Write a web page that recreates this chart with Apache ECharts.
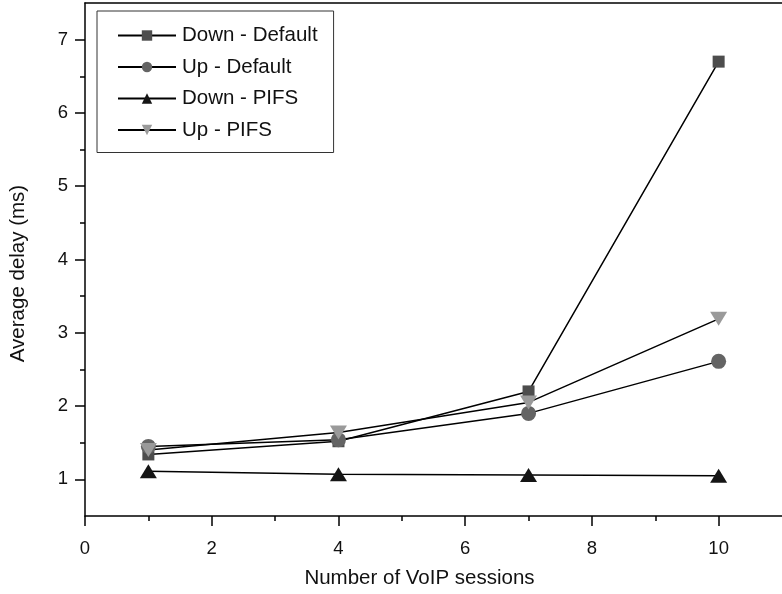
<!DOCTYPE html>
<html>
<head>
<meta charset="utf-8">
<script src="https://cdn.jsdelivr.net/npm/echarts@6/dist/echarts.min.js"></script>
<style>
  html, body { margin: 0; padding: 0; background: #fff; }
  #chart { width: 782px; height: 594px; }
</style>
</head>
<body>
<div id="chart"></div>
<script>
// Number of VoIP sessions (x) and average delay in ms per scenario
const sessions = [1, 4, 7, 10];
const downDefault = [1.34, 1.52, 2.20, 6.70];
const upDefault = [1.45, 1.54, 1.90, 2.61];
const downPifs = [1.11, 1.07, 1.06, 1.05];
const upPifs = [1.40, 1.64, 2.05, 3.19];

// Axis tick positions
const xMajorTicks = [0, 2, 4, 6, 8, 10];
const xMinorTicks = [1, 3, 5, 7, 9];
const yMajorTicks = [1, 2, 3, 4, 5, 6, 7];
const yMinorTicks = [1.5, 2.5, 3.5, 4.5, 5.5, 6.5];

const FONT = 'Liberation Sans, Arial, Helvetica, sans-serif';

function pairs(ys) {
  return sessions.map((x, i) => [x, ys[i]]);
}

function makeSeries(name, ys, symbol, size, color, rotate) {
  return {
    name: name,
    type: 'line',
    data: pairs(ys),
    symbol: symbol,
    symbolSize: size,
    symbolRotate: rotate || 0,
    showAllSymbol: true,
    lineStyle: { color: '#000', width: 1.5 },
    itemStyle: { color: color, borderWidth: 0, opacity: 1 },
    emphasis: { disabled: true },
    animation: false
  };
}

const chart = echarts.init(document.getElementById('chart'), null, { renderer: 'canvas' });

chart.setOption({
  backgroundColor: '#fff',
  animation: false,
  grid: { left: 84, top: 3, right: -3, bottom: 77, containLabel: false },
  legend: {
    orient: 'vertical',
    left: 97,
    top: 11,
    padding: [14, 16, 12, 20],
    itemWidth: 58,
    itemHeight: 13,
    itemGap: 10.5,
    borderColor: '#333',
    borderWidth: 1,
    backgroundColor: '#fff',
    textStyle: { fontFamily: FONT, fontSize: 20.5, color: '#111', padding: [0, 0, 0, 1] },
    data: ['Down - Default', 'Up - Default', 'Down - PIFS', 'Up - PIFS']
  },
  xAxis: [
    {
      type: 'value',
      min: 0,
      max: 11,
      position: 'bottom',
      name: 'Number of VoIP sessions',
      nameLocation: 'middle',
      nameGap: 52,
      nameTextStyle: { fontFamily: FONT, fontSize: 20.5, color: '#111', padding: [0, 28, 0, 0] },
      axisLine: { show: true, lineStyle: { color: '#000', width: 1.5 } },
      axisTick: { show: true, inside: false, length: 10, customValues: xMajorTicks, lineStyle: { color: '#000', width: 1.5 } },
      axisLabel: { show: true, margin: 23, customValues: xMajorTicks, fontFamily: FONT, fontSize: 18.5, color: '#111' },
      splitLine: { show: false }
    },
    {
      type: 'value',
      min: 0,
      max: 11,
      position: 'top',
      axisLine: { show: true, lineStyle: { color: '#000', width: 1.5 } },
      axisTick: { show: false },
      axisLabel: { show: false },
      splitLine: { show: false }
    },
    {
      type: 'value',
      min: 0,
      max: 11,
      position: 'bottom',
      offset: 0,
      axisLine: { show: false },
      axisTick: { show: true, inside: false, length: 5, customValues: xMinorTicks, lineStyle: { color: '#000', width: 1.5 } },
      axisLabel: { show: false },
      splitLine: { show: false }
    }
  ],
  yAxis: [
    {
      type: 'value',
      min: 0.5,
      max: 7.5,
      position: 'left',
      name: 'Average delay (ms)',
      nameLocation: 'middle',
      nameGap: 56,
      nameTextStyle: { fontFamily: FONT, fontSize: 20.5, color: '#111', padding: [0, 28, 0, 0] },
      axisLine: { show: true, lineStyle: { color: '#000', width: 1.5 } },
      axisTick: { show: true, inside: false, length: 10, customValues: yMajorTicks, lineStyle: { color: '#000', width: 1.5 } },
      axisLabel: { show: true, margin: 17, customValues: yMajorTicks, fontFamily: FONT, fontSize: 18.5, color: '#111' },
      splitLine: { show: false }
    },
    {
      type: 'value',
      min: 0.5,
      max: 7.5,
      position: 'left',
      offset: 0,
      axisLine: { show: false },
      axisTick: { show: true, inside: false, length: 5, customValues: yMinorTicks, lineStyle: { color: '#000', width: 1.5 } },
      axisLabel: { show: false },
      splitLine: { show: false }
    }
  ],
  series: [
    makeSeries('Down - Default', downDefault, 'rect', 12, '#4d4d4d'),
    makeSeries('Up - Default', upDefault, 'circle', 15, '#646464'),
    makeSeries('Down - PIFS', downPifs, 'triangle', [17, 14], '#151515'),
    makeSeries('Up - PIFS', upPifs, 'triangle', [17, 14], '#9a9a9a', 180)
  ]
});
</script>
</body>
</html>
